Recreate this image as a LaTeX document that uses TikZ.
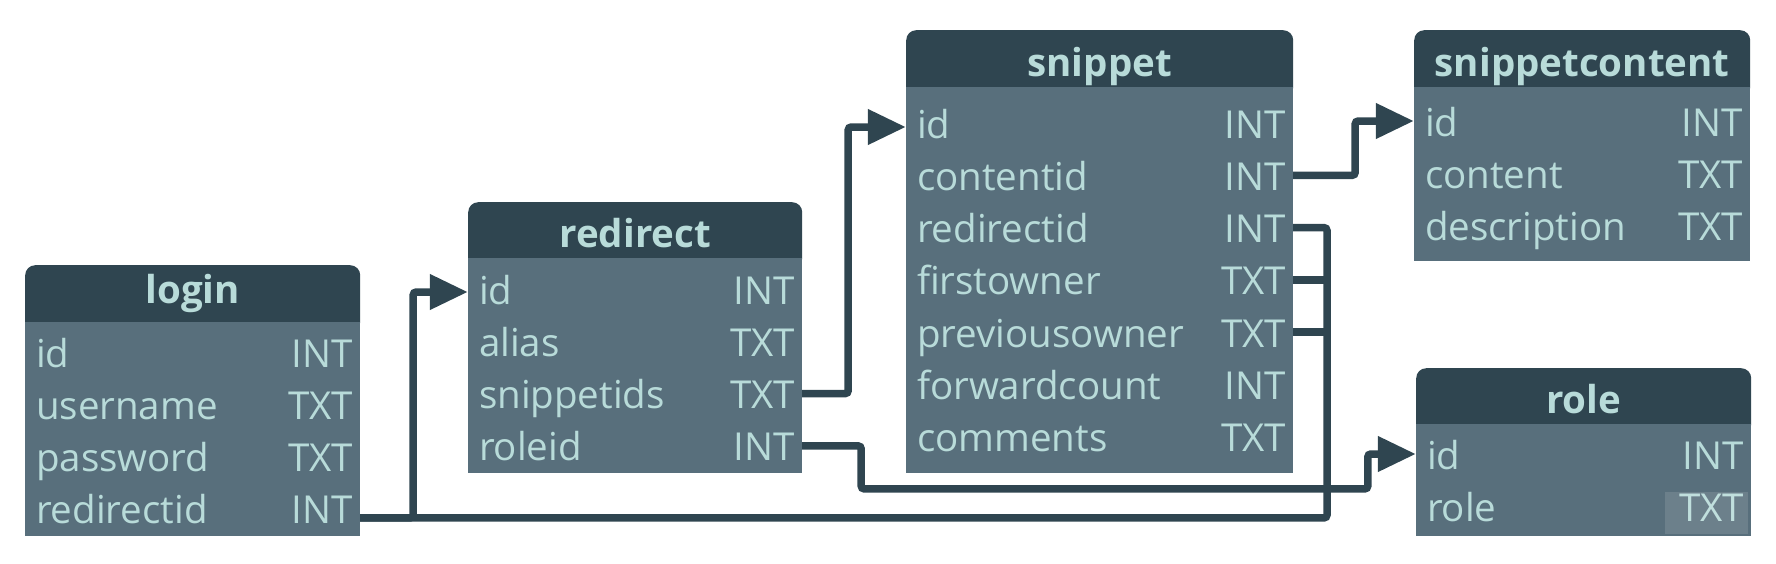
\documentclass[tikz,border=0pt]{standalone}
\usepackage{fontspec}
\setmainfont{Open Sans}
\usetikzlibrary{arrows.meta,positioning}
\definecolor{charcoal}{HTML}{2F4550}
\definecolor{slategray}{HTML}{586F7C}
\definecolor{powderblue}{HTML}{B8DBD9}

\begin{document}
\begin{tikzpicture}[
    x=1pt, y=-1pt,
    >={Triangle[length=38pt,width=34pt]},
    font=\fontsize{38.5}{40}\selectfont,
    tablehead/.style={
        fill=charcoal,
        text=powderblue,
        font=\fontsize{38.5}{40}\selectfont\bfseries,
        rounded corners=10pt,
        anchor=north west,
        inner sep=0pt,
        text height=25pt,
        text depth=0pt
    },
    tablebody/.style={
        fill=slategray,
        anchor=north west,
        inner sep=0pt
    },
    rowbox/.style={
        inner sep=0pt,
        minimum height=52pt
    },
    fieldname/.style={
        text=powderblue,
        inner sep=0pt,
        text height=30pt,
        text depth=0pt
    },
    link/.style={
        draw=charcoal,
        line width=7.5pt,
        rounded corners=3pt
    }
]
\useasboundingbox (0,0) rectangle (1776,563);

% =====================
% TABELLE
% =====================

% login
\node[tablehead, text height=10pt, minimum width=335pt, minimum height=67pt] (login) at (25,265) {login};
\node[tablebody, minimum width=335pt, minimum height=214pt] (login-body) at (25,322) {};
\foreach \n/\t [count=\i] in {id/INT, username/TXT, password/TXT, redirectid/INT} {
    \node[rowbox, minimum width=335pt] (login-\i) at (192.5,{352+52.3*(\i-1)}) {};
    \node[fieldname, right=11pt of login-\i.west] {\n};
    \node[fieldname, left=7pt of login-\i.east] {\t};
}

% redirect
\node[tablehead, minimum width=334pt, minimum height=66pt] (redirect) at (468,202) {redirect};
\node[tablebody, minimum width=334pt, minimum height=215pt] (redirect-body) at (468,258) {};
\foreach \n/\t [count=\i] in {id/INT, alias/TXT, snippetids/TXT, roleid/INT} {
    \node[rowbox, minimum width=334pt] (redirect-\i) at (635,{289+52.3*(\i-1)}) {};
    \node[fieldname, right=11pt of redirect-\i.west] {\n};
    \node[fieldname, left=7pt of redirect-\i.east] {\t};
}

% snippet
\node[tablehead, minimum width=387pt, minimum height=67pt] (snippet) at (906,30) {snippet};
\node[tablebody, minimum width=387pt, minimum height=386pt] (snippet-body) at (906,87) {};
\foreach \n/\t [count=\i] in {id/INT, contentid/INT, redirectid/INT, firstowner/TXT,
        previousowner/TXT, forwardcount/INT, comments/TXT} {
    \node[rowbox, minimum width=387pt] (snippet-\i) at (1099.5,{123+52.3*(\i-1)}) {};
    \node[fieldname, right=11pt of snippet-\i.west] {\n};
    \node[fieldname, left=7pt of snippet-\i.east] {\t};
}

% snippetcontent
\node[tablehead, minimum width=336pt, minimum height=67pt] (content) at (1414,30) {snippetcontent};
\node[tablebody, minimum width=336pt, minimum height=174pt] (content-body) at (1414,87) {};
\foreach \n/\t [count=\i] in {id/INT, content/TXT, description/TXT} {
    \node[rowbox, minimum width=336pt] (content-\i) at (1582,{121+52.3*(\i-1)}) {};
    \node[fieldname, right=11pt of content-\i.west] {\n};
    \node[fieldname, left=7pt of content-\i.east] {\t};
}

% role
\node[tablehead, minimum width=335pt, minimum height=66pt] (role) at (1416,368) {role};
\node[tablebody, minimum width=335pt, minimum height=112pt] (role-body) at (1416,424) {};
\foreach \n/\t [count=\i] in {id/INT, role/TXT} {
    \node[rowbox, minimum width=335pt] (role-\i) at (1583.5,{454+52.3*(\i-1)}) {};
    \node[fieldname, right=11pt of role-\i.west] {\n};
    \node[fieldname, left=7pt of role-\i.east] {\t};
}

% =====================
% COLLEGAMENTI
% =====================
\coordinate (bus) at (1327,0);

% login.redirectid -> redirect.id
\draw[link, ->] ([yshift=-9pt]login-4.east) -- ++(53,0) |- ([yshift=-3pt]redirect-1.west);

% snippet.redirectid, firstowner, previousowner
\draw[link] ([yshift=-9pt]login-4.east) -| (bus |- snippet-3.east) -- (snippet-3.east);
\draw[link] (snippet-4.east) -- (bus |- snippet-4.east);
\draw[link] (snippet-5.east) -- (bus |- snippet-5.east);

% redirect.snippetids -> snippet.id
\draw[link, ->] (redirect-3.east) -- ++(46,0) |- ([yshift=-4pt]snippet-1.west);

% redirect.roleid -> role.id
\draw[link, ->] (redirect-4.east) -- ++(59,0) -- ++(0,43)
    -| ([xshift=-48pt]role-1.west) -- (role-1.west);

% snippet.contentid -> snippetcontent.id
\draw[link, ->] (snippet-2.east) -- ++(62,0) |- (content-1.west);

% watermark
\node[fill=white, fill opacity=0.12, minimum width=83pt, minimum height=42pt,
    inner sep=0pt] (watermark) at (1706,513) {};

\end{tikzpicture}
\end{document}
